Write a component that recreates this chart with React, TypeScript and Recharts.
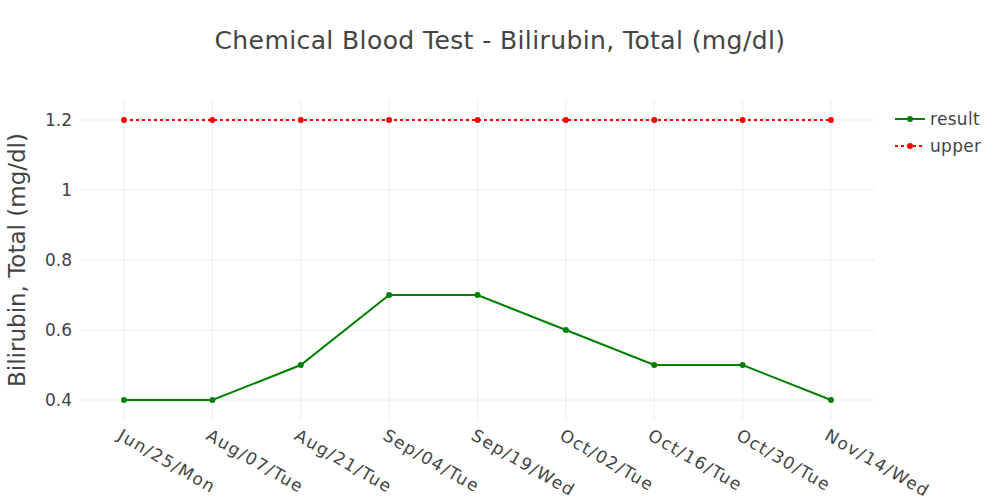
import React from "react";
import { LineChart, Line, XAxis, YAxis, CartesianGrid, Legend, Label } from "recharts";

const categories = ["Jun/25/Mon", "Aug/07/Tue", "Aug/21/Tue", "Sep/04/Tue", "Sep/19/Wed", "Oct/02/Tue", "Oct/16/Tue", "Oct/30/Tue", "Nov/14/Wed"];
const resultValues = [0.4, 0.4, 0.5, 0.7, 0.7, 0.6, 0.5, 0.5, 0.4];
const upperValues = [1.2, 1.2, 1.2, 1.2, 1.2, 1.2, 1.2, 1.2, 1.2];
const yTicks = [0.4, 0.6, 0.8, 1, 1.2];
const title = "Chemical Blood Test - Bilirubin, Total (mg/dl)";
const yLabel = "Bilirubin, Total (mg/dl)";

const data = categories.map((c, i) => ({ date: c, result: resultValues[i], upper: upperValues[i] }));

const FONT = '"DejaVu Sans", Verdana, sans-serif';
const TEXT = "#444444";

const XTick = (props: any) => {
  const { x, y, payload } = props;
  return (
    <g transform={`translate(${x},${y}) rotate(30)`}>
      <text x={3} y={20} textAnchor="start" fill={TEXT} fontSize={17} letterSpacing={1.4} fontFamily={FONT}>
        {payload.value}
      </text>
    </g>
  );
};

const legendItems = [
  { name: "result", color: "#008000", dash: undefined as string | undefined },
  { name: "upper", color: "#ff0000", dash: "3 3" },
];

const renderLegend = () => (
  <svg width={110} height={60}>
    {legendItems.map((it, i) => (
      <g key={it.name} transform={`translate(0,${i * 27})`}>
        <line x1={5} y1={10} x2={35} y2={10} stroke={it.color} strokeWidth={2} strokeDasharray={it.dash} />
        <circle cx={20} cy={10} r={3} fill={it.color} />
        <text x={40} y={16} fill={TEXT} fontSize={17} letterSpacing={0.3} fontFamily={FONT}>
          {it.name}
        </text>
      </g>
    ))}
  </svg>
);

export default function App() {
  return (
    <div style={{ position: "absolute", left: 0, top: 0, width: 1000, height: 500, background: "#fff" }}>
      <div
        style={{
          position: "absolute",
          left: 0,
          top: 24,
          width: 1000,
          textAlign: "center",
          fontFamily: FONT,
          fontSize: 25,
          letterSpacing: 0.4,
          color: TEXT,
          lineHeight: "34px",
        }}
      >
        {title}
      </div>
      <LineChart
        width={1000}
        height={500}
        data={data}
        margin={{ top: 100, right: 15, left: 0, bottom: 0 }}
      >
        <CartesianGrid stroke="#eeeeee" strokeWidth={1} horizontalValues={yTicks} verticalValues={categories} />
        <XAxis
          dataKey="date"
          type="category"
          padding={{ left: 44, right: 44 }}
          height={80}
          tickLine={false}
          axisLine={false}
          tickSize={0}
          tickMargin={0}
          interval={0}
          tick={<XTick />}
        />
        <YAxis
          type="number"
          domain={[0.343, 1.257]}
          ticks={yTicks}
          width={80}
          tickLine={false}
          axisLine={false}
          tickSize={0}
          tickMargin={8}
          allowDataOverflow
          tick={{ fill: TEXT, fontSize: 17, fontFamily: FONT }}
          tickFormatter={(v: number) => String(v)}
        >
          <Label
            value={yLabel}
            angle={-90}
            position="insideLeft"
            offset={0}
            style={{ fill: TEXT, fontSize: 23, fontFamily: FONT, textAnchor: "middle" }}
            dx={17}
          />
        </YAxis>
        <Legend
          layout="vertical"
          align="right"
          verticalAlign="top"
          wrapperStyle={{ top: 109, left: 890, width: 110 }}
          content={renderLegend}
        />
        <Line
          type="linear"
          dataKey="result"
          name="result"
          stroke="#008000"
          strokeWidth={2}
          dot={{ r: 3, fill: "#008000", stroke: "#008000", strokeWidth: 0 }}
          activeDot={false}
          isAnimationActive={false}
        />
        <Line
          type="linear"
          dataKey="upper"
          name="upper"
          stroke="#ff0000"
          strokeWidth={2}
          strokeDasharray="3 3"
          dot={{ r: 3, fill: "#ff0000", stroke: "#ff0000", strokeWidth: 0, strokeDasharray: "" }}
          activeDot={false}
          isAnimationActive={false}
        />
      </LineChart>
    </div>
  );
}
